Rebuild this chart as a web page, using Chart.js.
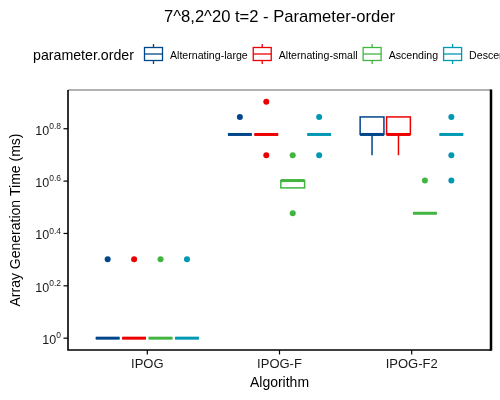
<!DOCTYPE html>
<html><head><meta charset="utf-8">
<script src="https://cdn.jsdelivr.net/npm/chart.js@4.4.0/dist/chart.umd.min.js"></script>
<style>html,body{margin:0;padding:0;background:#fff;overflow:hidden}canvas{display:block}</style>
</head><body>
<canvas id="c" width="500" height="400"></canvas>
<script>
const chartTitle = '7^8,2^20 t=2 - Parameter-order';
const legendTitle = 'parameter.order';
const xTitle = 'Algorithm';
const yTitle = 'Array Generation Time (ms)';
const categories = ['IPOG', 'IPOG-F', 'IPOG-F2'];
const seriesNames = ['Alternating-large', 'Alternating-small', 'Ascending', 'Descending'];
const seriesColors = ['#00468B', '#ED0000', '#42B540', '#0099B4'];
const yTickExponents = [0, 0.2, 0.4, 0.6, 0.8];
const yTickExpLabels = ['0', '0.2', '0.4', '0.6', '0.8'];
// each box: [whiskerLow, q1, median, q3, whiskerHigh] per category (ms)
const altLargeBoxes = [[1, 1, 1, 1, 1], [6, 6, 6, 6, 6], [5, 6, 6, 7, 7]];
const altSmallBoxes = [[1, 1, 1, 1, 1], [6, 6, 6, 6, 6], [5, 6, 6, 7, 7]];
const ascendingBoxes = [[1, 1, 1, 1, 1], [3.75, 3.75, 4, 4, 4], [3, 3, 3, 3, 3]];
const descendingBoxes = [[1, 1, 1, 1, 1], [6, 6, 6, 6, 6], [6, 6, 6, 6, 6]];
const altLargeOutliers = [[2], [7], []];
const altSmallOutliers = [[2], [8, 5], []];
const ascendingOutliers = [[2], [5, 3], [4]];
const descendingOutliers = [[2], [7, 5], [7, 5, 4]];

const allBoxes = [altLargeBoxes, altSmallBoxes, ascendingBoxes, descendingBoxes];
const allOutliers = [altLargeOutliers, altSmallOutliers, ascendingOutliers, descendingOutliers];
const dodge = s => (s - (seriesNames.length - 1) / 2) * 0.2;
const FONT = '"Liberation Sans", Arial, Helvetica, sans-serif';

const datasets = seriesNames.map((name, s) => ({
  label: name,
  data: allOutliers[s].flatMap((vals, c) => vals.map(v => ({ x: c + 1 + dodge(s), y: v }))),
  backgroundColor: seriesColors[s],
  borderColor: seriesColors[s],
  pointRadius: 3,
  pointBorderWidth: 0,
  pointHoverRadius: 3
}));

const drawPlugin = {
  id: 'ggbox',
  beforeDatasetsDraw(chart) {
    const { ctx, scales: { x, y } } = chart;
    const halfW = 0.09;
    allBoxes.forEach((boxes, s) => {
      boxes.forEach((b, c) => {
        const cx = c + 1 + dodge(s);
        const xl = x.getPixelForValue(cx - halfW), xr = x.getPixelForValue(cx + halfW), xm = x.getPixelForValue(cx);
        const [lo, q1, med, q3, hi] = b.map(v => y.getPixelForValue(v));
        ctx.save();
        ctx.strokeStyle = seriesColors[s];
        ctx.lineWidth = 1.5;
        ctx.beginPath();
        ctx.moveTo(xm, q1); ctx.lineTo(xm, lo);
        ctx.moveTo(xm, q3); ctx.lineTo(xm, hi);
        ctx.stroke();
        ctx.fillStyle = '#fff';
        ctx.fillRect(xl, q3, xr - xl, q1 - q3);
        ctx.strokeRect(xl, q3, xr - xl, q1 - q3);
        ctx.lineWidth = 3;
        ctx.beginPath();
        ctx.moveTo(xl, med); ctx.lineTo(xr, med);
        ctx.stroke();
        ctx.restore();
      });
    });
  },
  afterDraw(chart) {
    const { ctx, chartArea: a, scales: { x, y } } = chart;
    ctx.save();
    // panel border
    ctx.strokeStyle = '#999';
    ctx.lineWidth = 1.5;
    ctx.beginPath(); ctx.moveTo(a.left, a.top); ctx.lineTo(a.right, a.top); ctx.stroke();
    ctx.strokeStyle = '#000';
    ctx.lineWidth = 1.6;
    ctx.beginPath(); ctx.moveTo(a.left, a.top); ctx.lineTo(a.left, a.bottom); ctx.lineTo(a.right, a.bottom); ctx.stroke();
    ctx.lineWidth = 2.5;
    ctx.beginPath(); ctx.moveTo(a.right, a.top - 0.5); ctx.lineTo(a.right, a.bottom + 0.8); ctx.stroke();
    // y ticks
    ctx.lineWidth = 1.2;
    ctx.fillStyle = '#1a1a1a';
    yTickExponents.forEach((e, i) => {
      const py = y.getPixelForValue(Math.pow(10, e));
      ctx.beginPath(); ctx.moveTo(a.left - 4.5, py); ctx.lineTo(a.left, py); ctx.stroke();
      ctx.font = '8.5px ' + FONT;
      const we = ctx.measureText(yTickExpLabels[i]).width;
      ctx.font = '12.5px ' + FONT;
      const wb = ctx.measureText('10').width;
      const right = a.left - 7;
      ctx.textAlign = 'left'; ctx.textBaseline = 'alphabetic';
      ctx.fillText('10', right - we - wb, py + 6);
      ctx.font = '8.5px ' + FONT;
      ctx.fillText(yTickExpLabels[i], right - we, py + 0.3);
    });
    // x ticks
    categories.forEach((cat, i) => {
      const px = x.getPixelForValue(i + 1);
      ctx.beginPath(); ctx.moveTo(px, a.bottom); ctx.lineTo(px, a.bottom + 4.5); ctx.stroke();
      ctx.font = '13px ' + FONT;
      ctx.textAlign = 'center';
      ctx.fillText(cat, px, a.bottom + 17.5);
    });
    // axis titles
    ctx.fillStyle = '#000';
    ctx.font = '14px ' + FONT;
    ctx.textAlign = 'center';
    ctx.fillText(xTitle, (a.left + a.right) / 2, a.bottom + 36.5);
    ctx.save();
    ctx.translate(19.5, (a.top + a.bottom) / 2);
    ctx.rotate(-Math.PI / 2);
    ctx.fillText(yTitle, 0, 0);
    ctx.restore();
    // title
    ctx.font = '16.6px ' + FONT;
    ctx.fillText(chartTitle, (a.left + a.right) / 2, 21.5);
    // legend
    ctx.textAlign = 'left';
    ctx.font = '14.2px ' + FONT;
    ctx.fillText(legendTitle, 33, 60);
    let lx = 144.5;
    const midY = 54;
    seriesNames.forEach((name, s) => {
      ctx.strokeStyle = seriesColors[s];
      ctx.lineWidth = 1.3;
      const cxk = lx + 9;
      ctx.beginPath();
      ctx.moveTo(cxk, 44); ctx.lineTo(cxk, 47.5);
      ctx.moveTo(cxk, 60.5); ctx.lineTo(cxk, 64);
      ctx.stroke();
      ctx.strokeRect(lx, 47.5, 18, 13);
      ctx.beginPath(); ctx.moveTo(lx, midY); ctx.lineTo(lx + 18, midY); ctx.stroke();
      ctx.fillStyle = '#000';
      ctx.font = '10.6px ' + FONT;
      const tx = lx + 25.5;
      ctx.fillText(name, tx, 59.3);
      lx = tx + ctx.measureText(name).width + 5.5;
    });
    ctx.restore();
  }
};

new Chart(document.getElementById('c'), {
  type: 'scatter',
  data: { datasets },
  options: {
    responsive: false,
    animation: false,
    devicePixelRatio: 1,
    layout: { padding: { left: 68, top: 90, right: 9, bottom: 50 } },
    plugins: { legend: { display: false }, title: { display: false }, tooltip: { enabled: false } },
    scales: {
      x: {
        type: 'linear', display: false, min: 0.4, max: 3.6,
        afterBuildTicks: sc => { sc.ticks = categories.map((c, i) => ({ value: i + 1 })); }
      },
      y: {
        type: 'logarithmic', display: false,
        min: Math.pow(10, -0.0452), max: Math.pow(10, 0.948),
        afterBuildTicks: sc => { sc.ticks = yTickExponents.map(e => ({ value: Math.pow(10, e) })); }
      }
    }
  },
  plugins: [drawPlugin]
});
</script>
</body></html>
